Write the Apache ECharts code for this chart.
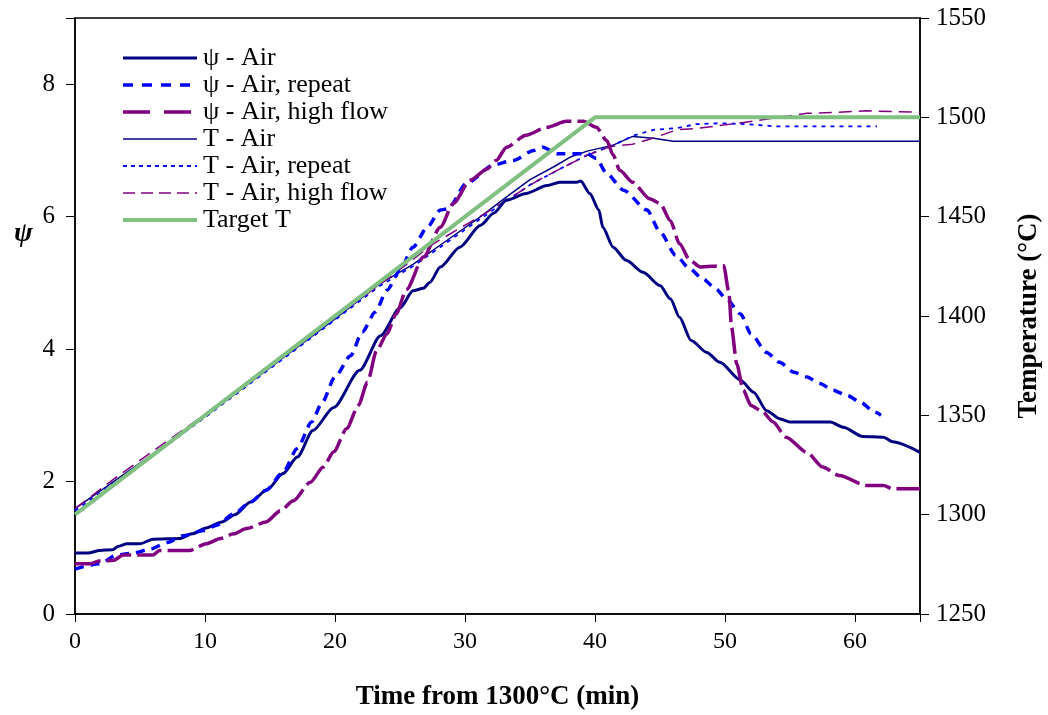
<!DOCTYPE html>
<html>
<head>
<meta charset="utf-8">
<script src="https://cdn.jsdelivr.net/npm/echarts@6/dist/echarts.min.js"></script>
<style>
html,body{margin:0;padding:0;background:#fff;}
#chart{width:1048px;height:715px;}
</style>
</head>
<body>
<div id="chart"></div>
<script>
// ---- data: [time (min), value] ----
var psiAir = [[0,0.92],[1,0.92],[1.9,0.96],[2.9,0.97],[3.3,1.02],[4,1.06],[5,1.06],[6,1.13],[8.1,1.14],[9,1.21],[10.1,1.3],[11.3,1.39],[12.3,1.5],[13.5,1.69],[14.8,1.88],[16,2.12],[17.1,2.37],[18.3,2.77],[19.9,3.12],[21.9,3.68],[23.5,4.2],[25,4.62],[26,4.88],[26.8,4.92],[27.3,5.01],[28.1,5.24],[29.6,5.54],[31.2,5.87],[32.2,6.05],[33.2,6.25],[34.7,6.35],[36.3,6.47],[37.3,6.52],[38.6,6.52],[38.9,6.54],[39.6,6.35],[40.3,6.1],[40.6,5.84],[41.4,5.54],[42.4,5.34],[43.7,5.16],[45,4.96],[45.8,4.76],[46.5,4.48],[47.4,4.13],[48.6,3.95],[49.6,3.8],[51.2,3.53],[52.2,3.35],[53.2,3.07],[54.2,2.95],[55,2.9],[58.1,2.9],[59.1,2.82],[60.6,2.68],[62.2,2.67],[62.9,2.6],[65,2.44]];
var psiRepeat = [[0,0.68],[1.9,0.76],[3.2,0.89],[4.5,0.92],[5.8,0.98],[7.1,1.08],[8.3,1.18],[9.9,1.26],[10.9,1.34],[12.2,1.51],[13.5,1.69],[14.7,1.87],[16,2.14],[17.1,2.5],[18.2,2.9],[19,3.19],[20,3.58],[21.2,3.9],[22.1,4.26],[23.1,4.56],[24,4.89],[25,5.19],[26,5.54],[27.1,5.84],[28.1,6.1],[28.7,6.12],[30.1,6.5],[32.2,6.78],[33.7,6.85],[35.3,7.0],[36,7.05],[37.1,6.95],[39.4,6.95],[40.1,6.88],[40.9,6.65],[42.2,6.4],[44,6.1],[45,5.77],[46.2,5.42],[47.3,5.21],[48.3,5.06],[49.3,4.91],[50.1,4.76],[51.2,4.53],[52,4.23],[53.2,3.95],[54.2,3.8],[55.3,3.65],[56.3,3.58],[57.3,3.48],[58.3,3.38],[59.4,3.3],[60.4,3.2],[61.5,3.05],[62,3.0]];
var psiHighFlow = [[0,0.76],[1.15,0.76],[1.9,0.8],[2.95,0.81],[3.7,0.89],[6,0.89],[6.5,0.96],[8.8,0.96],[10.1,1.06],[11.2,1.14],[12.2,1.21],[13.2,1.29],[14.7,1.39],[15.8,1.56],[16.8,1.71],[18.1,1.99],[19.1,2.22],[19.9,2.45],[20.9,2.8],[21.8,3.15],[22.5,3.5],[23.2,3.98],[24,4.23],[24.7,4.53],[25.5,4.9],[26.8,5.39],[28.1,5.84],[29.1,6.2],[30.4,6.55],[31.7,6.72],[32.4,6.85],[33.2,7.05],[34.7,7.23],[36.3,7.35],[37.8,7.44],[39.1,7.44],[40.1,7.35],[40.9,7.15],[41.4,6.93],[41.9,6.7],[42.9,6.52],[44.2,6.27],[45,6.2],[45.8,5.94],[46.5,5.59],[47.3,5.34],[48.1,5.24],[49.9,5.26],[50.3,4.86],[50.5,4.33],[50.9,3.78],[51.4,3.38],[52,3.15],[52.9,3.05],[53.7,2.9],[54.7,2.67],[56.3,2.44],[57.5,2.22],[58.8,2.09],[60.9,1.94],[62.2,1.94],[62.9,1.89],[65,1.89]];
var tAir = [[0,1303],[5,1326],[10,1349.5],[15,1374],[20,1398.5],[23.4,1416],[26,1426],[28.6,1438],[31.2,1450],[33.2,1460],[35,1468.6],[36.8,1475],[38.1,1480],[39.4,1483],[40.4,1484.5],[41.4,1486],[42.9,1490.4],[44.5,1489.5],[46,1488],[65,1488]];
var tRepeat = [[0,1302],[5,1325],[10,1349],[15,1373.5],[20,1398],[23.4,1415],[26,1425],[28.6,1437],[31.2,1449],[33.2,1458],[35,1466],[37.3,1474],[39.4,1481],[41.4,1486],[42.9,1490.7],[44.5,1493.7],[46.3,1494.6],[47.8,1496.6],[49.6,1497],[51.7,1496.6],[54,1495.4],[61.7,1495.4]];
var tHighFlow = [[0,1303],[3,1318],[6,1332],[10,1350.5],[15,1375],[20,1399.5],[24,1418.5],[27.6,1436.5],[31.9,1453],[35.7,1468.6],[39.4,1481],[41.2,1485.3],[42.9,1486.5],[44.2,1489],[46.3,1493.7],[48.1,1494.6],[51.4,1497.4],[54.7,1500.5],[56.3,1502],[58.3,1502.4],[60.9,1503.3],[65,1502.5]];
var targetT = [[0,1300],[40,1500],[65,1500]];
var seriesNames = ['\u03c8 - Air','\u03c8 - Air, repeat','\u03c8 - Air, high flow','T - Air','T - Air, repeat','T - Air, high flow','Target T'];

var FONT = 'Liberation Serif';
var chart = echarts.init(document.getElementById('chart'));

var styles = [
  {color: '#000080', width: 3, type: 'solid', smooth: 0.25, y: 0, z: 3},
  {color: '#0000FF', width: 3.5, type: [9,7], smooth: 0.25, y: 0, z: 3},
  {color: '#800080', width: 3.5, type: [26,6], smooth: 0.25, y: 0, z: 3},
  {color: '#000080', width: 1.5, type: 'solid', smooth: false, y: 1, z: 2},
  {color: '#0000FF', width: 1.8, type: [4,5], smooth: false, y: 1, z: 2},
  {color: '#800080', width: 1.5, type: [13,7], smooth: false, y: 1, z: 2},
  {color: '#80C080', width: 4, type: 'solid', smooth: false, y: 1, z: 4}
];
var datasets = [psiAir, psiRepeat, psiHighFlow, tAir, tRepeat, tHighFlow, targetT];
var legendTypes = ['solid', [10,9], [27,14], 'solid', [4,4], [12,6], 'solid'];

var series = datasets.map(function(d, i){
  var s = styles[i];
  return {
    name: seriesNames[i], type: 'line', data: d, yAxisIndex: s.y,
    showSymbol: false, symbol: 'none', smooth: s.smooth, smoothMonotone: 'x',
    lineStyle: {color: s.color, width: s.width, type: s.type, cap: 'butt'},
    itemStyle: {color: s.color}, z: s.z, animation: false
  };
});

chart.setOption({
  animation: false,
  backgroundColor: '#fff',
  grid: {left: 75, right: 128, top: 18, bottom: 101, containLabel: false, outerBoundsMode: 'none',
    show: true, borderColor: '#000', borderWidth: 1.5, backgroundColor: 'transparent'},
  legend: {
    orient: 'vertical', left: 121, top: 45, padding: 0, itemWidth: 74, itemHeight: 14, itemGap: 1,
    textStyle: {fontFamily: FONT, fontSize: 26, color: '#000', padding: [0,0,0,1], lineHeight: 26},
    itemStyle: {opacity: 0},
    data: seriesNames.map(function(n, i){
      return {name: n, lineStyle: {color: styles[i].color, width: styles[i].width, type: legendTypes[i], cap: 'butt'}};
    }),
    selectedMode: false
  },
  xAxis: {
    type: 'value', min: 0, max: 65, interval: 10,
    name: 'Time from 1300\u00b0C (min)', nameLocation: 'middle', nameGap: 70,
    nameTextStyle: {fontFamily: FONT, fontSize: 27, fontWeight: 'bold', color: '#000'},
    axisLine: {show: true, lineStyle: {color: '#000', width: 1.5}},
    axisTick: {show: true, inside: false, length: 8, lineStyle: {color: '#000', width: 1}},
    axisLabel: {fontFamily: FONT, fontSize: 24, color: '#000', margin: 16,
      formatter: function(v){ return v % 10 === 0 ? String(v) : ''; }},
    splitLine: {show: false}
  },
  yAxis: [{
    type: 'value', min: 0, max: 9, interval: 2, position: 'left',
    axisLine: {show: true, lineStyle: {color: '#000', width: 1.5}},
    axisTick: {show: true, length: 9, lineStyle: {color: '#000', width: 1}},
    axisLabel: {fontFamily: FONT, fontSize: 25, color: '#000', margin: 20,
      formatter: function(v){ return v % 2 === 0 ? String(v) : ''; }},
    splitLine: {show: false}
  }, {
    type: 'value', min: 1250, max: 1550, interval: 50, position: 'right',
    name: 'Temperature (\u00b0C)', nameLocation: 'middle', nameRotate: 90, nameGap: 96,
    nameTextStyle: {fontFamily: FONT, fontSize: 27, fontWeight: 'bold', color: '#000'},
    axisLine: {show: true, lineStyle: {color: '#000', width: 1.5}},
    axisTick: {show: true, length: 9, lineStyle: {color: '#000', width: 1}},
    axisLabel: {fontFamily: FONT, fontSize: 25, color: '#000', margin: 16,
      formatter: function(v){ return String(v); }},
    splitLine: {show: false}
  }],
  graphic: [{
    type: 'text', left: 14, top: 220,
    style: {text: '\u03c8', font: 'italic bold 28px "Liberation Serif"', fill: '#000'}
  }],
  series: series
});
</script>
</body>
</html>
